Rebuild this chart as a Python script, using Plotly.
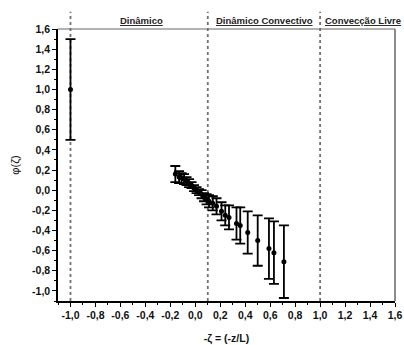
import plotly.graph_objects as go

# data
x_vals = [-1.0, -0.16, -0.13, -0.11, -0.09, -0.07, -0.05, -0.03, -0.01, 0.01, 0.03,
          0.05, 0.07, 0.09, 0.11, 0.14, 0.17, 0.21, 0.24, 0.27, 0.33, 0.36, 0.42,
          0.50, 0.59, 0.63, 0.71]
y_vals = [1.0, 0.16, 0.13, 0.12, 0.11, 0.09, 0.07, 0.05, 0.02, 0.0, -0.02,
          -0.04, -0.07, -0.09, -0.11, -0.13, -0.16, -0.21, -0.25, -0.27, -0.33, -0.35, -0.42,
          -0.50, -0.58, -0.62, -0.71]
err_vals = [0.5, 0.08, 0.06, 0.05, 0.05, 0.04, 0.04, 0.03, 0.03, 0.03, 0.03,
            0.04, 0.04, 0.05, 0.06, 0.07, 0.08, 0.09, 0.10, 0.12, 0.16, 0.18, 0.21,
            0.25, 0.30, 0.31, 0.36]

regime_bounds = [-1.0, 0.1, 1.0]
regime_labels = ["Dinâmico", "Dinâmico Convectivo", "Convecção Livre"]
regime_label_x = [-0.43, 0.555, 1.345]

tick_vals = [-1.0, -0.8, -0.6, -0.4, -0.2, 0.0, 0.2, 0.4, 0.6, 0.8, 1.0, 1.2, 1.4, 1.6]
tick_text = ["-1,0", "-0,8", "-0,6", "-0,4", "-0,2", "0,0", "0,2", "0,4", "0,6", "0,8",
             "1,0", "1,2", "1,4", "1,6"]

FONT = "Liberation Sans, Arial, sans-serif"

fig = go.Figure()
fig.add_trace(go.Scatter(
    x=x_vals, y=y_vals, mode="markers",
    marker=dict(color="black", size=5),
    error_y=dict(type="data", array=err_vals, visible=True, color="black",
                 thickness=1.8, width=5),
    showlegend=False,
))

shapes = []
for b in regime_bounds:
    shapes.append(dict(type="line", xref="x", yref="paper", x0=b, x1=b, y0=0, y1=1.063,
                       line=dict(color="#707070", width=1.8, dash="3px,3px"), layer="below"))
shapes.append(dict(type="line", xref="paper", yref="paper", x0=0, x1=1, y0=1, y1=1,
                   line=dict(color="#666666", width=1)))
shapes.append(dict(type="line", xref="paper", yref="paper", x0=1, x1=1, y0=0, y1=1,
                   line=dict(color="#666666", width=1.5)))

annotations = []
for lx, lab in zip(regime_label_x, regime_labels):
    annotations.append(dict(x=lx, y=1.0, xref="x", yref="paper", yanchor="bottom",
                            text="<b><u>" + lab + "</u></b>", showarrow=False,
                            font=dict(family=FONT, size=9.5, color="#222222"), yshift=1))

axis_common = dict(
    showline=True, linecolor="black", linewidth=1.5,
    ticks="outside", ticklen=4, tickwidth=1, tickcolor="black",
    showgrid=False, zeroline=False, automargin=False,
    tickvals=tick_vals, ticktext=["<b>" + t + "</b>" for t in tick_text],
    tickfont=dict(family=FONT, size=10.5, color="#111111"),
    minor=dict(dtick=0.1, ticks="outside", ticklen=2.5, tickcolor="black", showgrid=False),
)

fig.update_layout(
    width=404, height=345,
    margin=dict(l=58, r=9, t=29, b=44),
    paper_bgcolor="white", plot_bgcolor="white",
    xaxis=dict(range=[-1.1, 1.6], title=dict(text="<b>-ζ = (-z/L)</b>", standoff=14,
               font=dict(family=FONT, size=10.5, color="#111111")), **axis_common),
    yaxis=dict(range=[-1.1, 1.6], title=dict(text="φ(ζ)", standoff=10,
               font=dict(family=FONT, size=11, color="#111111")), **axis_common),
    shapes=shapes, annotations=annotations,
)

fig.write_html("out.html", config={"displayModeBar": False},
               post_script="document.body.style.margin='0';document.body.style.overflow='hidden';")
